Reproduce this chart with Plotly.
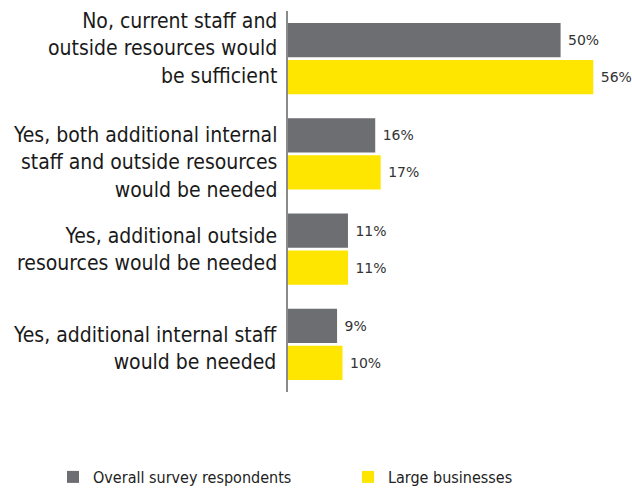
import plotly.graph_objects as go

categories = [
    "No, current staff and<br>outside resources would<br>be sufficient",
    "Yes, both additional internal<br>staff and outside resources<br>would be needed",
    "Yes, additional outside<br>resources would be needed",
    "Yes, additional internal staff<br>would be needed",
]
overall = [50, 16, 11, 9]
large = [56, 17, 11, 10]
series_names = ["Overall survey respondents", "Large businesses"]
colors = ["#6d6e71", "#ffe600"]

# vertical nudge (px) of each category label relative to its bar pair
label_nudge = [10.5, -8.5, 0, -4]

fig = go.Figure()
for i, (name, vals, col) in enumerate(zip(series_names, [overall, large], colors)):
    fig.add_trace(go.Bar(
        y=categories, x=vals, name=name, orientation="h",
        marker=dict(color=col, line=dict(width=0)),
        text=[f"\u00a0{v}%" for v in vals], textposition="outside",
        textfont=dict(family="DejaVu Sans", size=14, color="#333333"),
        cliponaxis=False,
        legend="legend" if i == 0 else "legend2",
    ))

for cat, dy in zip(categories, label_nudge):
    fig.add_annotation(
        x=0, xref="paper", xanchor="right", xshift=-9,
        y=cat, yref="y", yanchor="middle", yshift=dy,
        text=cat, showarrow=False, align="right",
        font=dict(family="DejaVu Sans Condensed", size=21, color="#1a1a1a"),
    )

legend_style = dict(
    orientation="h", xref="container", yref="container",
    y=0.0285, xanchor="left", yanchor="middle",
    font=dict(family="DejaVu Sans Condensed", size=16, color="#222222"),
    bgcolor="rgba(0,0,0,0)",
)

fig.update_layout(
    width=632, height=491,
    margin=dict(l=288, r=6, t=11, b=99),
    paper_bgcolor="white", plot_bgcolor="white",
    barmode="group", bargap=0.22, bargroupgap=0.08,
    showlegend=True,
    legend=dict(x=0.0839, **legend_style),
    legend2=dict(x=0.5506, **legend_style),
    xaxis=dict(range=[0, 62], visible=False, fixedrange=True),
    yaxis=dict(
        autorange="reversed", showline=True, linecolor="#8a8a8a", linewidth=2,
        showgrid=False, ticks="", showticklabels=False,
    ),
)

fig.write_html("out.html")
